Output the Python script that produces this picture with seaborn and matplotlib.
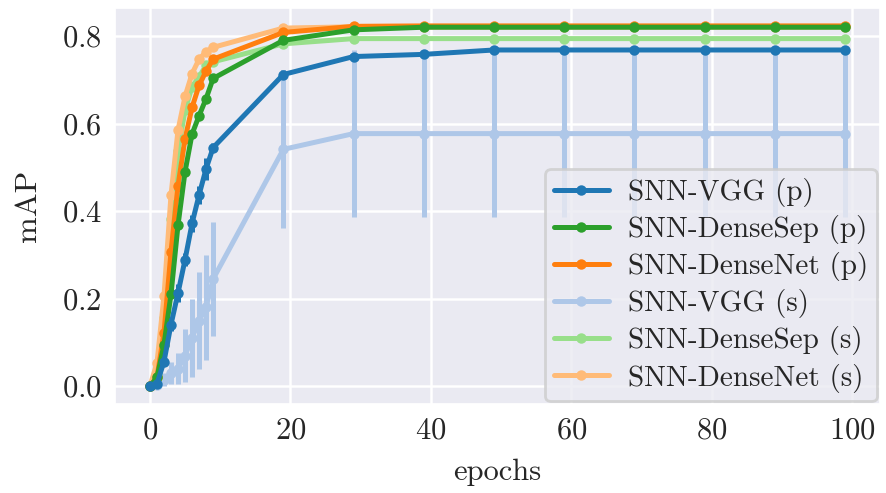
import numpy as np
import pandas as pd
import matplotlib
matplotlib.use('Agg')
import matplotlib.pyplot as plt
import seaborn as sns

# epochs at which mAP was evaluated
epochs = [0, 1, 2, 3, 4, 5, 6, 7, 8, 9, 19, 29, 39, 49, 59, 69, 79, 89, 99]

# mean mAP per model, (p) and (s) variants
vgg_p = [0.0, 0.006, 0.056, 0.141, 0.213, 0.289, 0.372, 0.437, 0.497, 0.545,
         0.712, 0.753, 0.758, 0.768, 0.768, 0.768, 0.768, 0.768, 0.768]
densesep_p = [0.0, 0.02, 0.095, 0.21, 0.368, 0.49, 0.576, 0.618, 0.657, 0.703,
              0.79, 0.814, 0.82, 0.82, 0.82, 0.82, 0.82, 0.82, 0.82]
densenet_p = [0.0, 0.02, 0.122, 0.307, 0.458, 0.565, 0.637, 0.687, 0.72, 0.747,
              0.808, 0.822, 0.823, 0.823, 0.823, 0.823, 0.823, 0.823, 0.823]
vgg_s = [0.0, 0.003, 0.015, 0.03, 0.04, 0.07, 0.11, 0.15, 0.18, 0.245,
         0.541, 0.577, 0.577, 0.577, 0.577, 0.577, 0.577, 0.577, 0.577]
densesep_s = [0.0, 0.03, 0.157, 0.383, 0.537, 0.63, 0.684, 0.707, 0.733, 0.741,
              0.782, 0.794, 0.794, 0.794, 0.794, 0.794, 0.794, 0.794, 0.794]
densenet_s = [0.0, 0.053, 0.206, 0.437, 0.585, 0.662, 0.714, 0.747, 0.764, 0.774,
              0.818, 0.821, 0.82, 0.82, 0.82, 0.82, 0.82, 0.82, 0.82]

# standard deviations (error bars)
vgg_p_sd = [0.0, 0.0, 0.01, 0.015, 0.02, 0.015, 0.02, 0.02, 0.025, 0.01,
            0.01, 0.005, 0.005, 0.0, 0.0, 0.0, 0.0, 0.0, 0.0]
vgg_s_sd = [0.0, 0.003, 0.015, 0.025, 0.035, 0.06, 0.09, 0.11, 0.12, 0.13,
            0.18, 0.19, 0.19, 0.19, 0.19, 0.19, 0.19, 0.19, 0.19]
zero_sd = [0.0] * 19

labels = ['SNN-VGG (p)', 'SNN-DenseSep (p)', 'SNN-DenseNet (p)',
          'SNN-VGG (s)', 'SNN-DenseSep (s)', 'SNN-DenseNet (s)']
colors = ['#1f77b4', '#2ca02c', '#ff7f0e', '#aec7e8', '#98df8a', '#ffbb78']

sns.set_theme(style='darkgrid')
plt.rcParams['font.family'] = 'serif'
plt.rcParams['font.serif'] = ['cmr10']
plt.rcParams['mathtext.fontset'] = 'cm'
plt.rcParams['axes.formatter.use_mathtext'] = True
plt.rcParams['axes.unicode_minus'] = False

fig, ax = plt.subplots(figsize=(8.86, 4.93), dpi=100)
fig.subplots_adjust(left=0.13, right=0.993, bottom=0.18, top=0.984)

series = [vgg_p, densesep_p, densenet_p, vgg_s, densesep_s, densenet_s]
sds = [vgg_p_sd, zero_sd, zero_sd, vgg_s_sd, zero_sd, zero_sd]

# (s) runs underneath, then orange, green, blue (p) on top
order = [3, 4, 5, 2, 1, 0]
for z, i in enumerate(order):
    df = pd.DataFrame({'epochs': epochs, 'mAP': series[i]})
    sd = np.array(sds[i])
    if sd.any():
        ax.errorbar(epochs, series[i], yerr=sd, fmt='none', ecolor=colors[i],
                    elinewidth=3.6, capsize=0, zorder=2 + z * 0.1)
    sns.lineplot(data=df, x='epochs', y='mAP', ax=ax, color=colors[i],
                 marker='o', markersize=7.5, markeredgewidth=0, linewidth=3.6,
                 label=labels[i], zorder=2.05 + z * 0.1)

h, l = ax.get_legend_handles_labels()
lookup = dict(zip(l, h))
ax.legend([lookup[k] for k in labels], labels, loc='lower right',
          fontsize=21, borderaxespad=0.1, labelspacing=0.28, borderpad=0.3,
          handlelength=1.9, handletextpad=0.65, framealpha=0.8, edgecolor='0.8')
ax.get_legend().get_frame().set_linewidth(2)

ax.set_xlabel('epochs', fontsize=22, labelpad=10)
ax.set_ylabel('mAP', fontsize=23, labelpad=14)
ax.tick_params(labelsize=22)
ax.set_xticks([0, 20, 40, 60, 80, 100])
ax.set_yticks([0.0, 0.2, 0.4, 0.6, 0.8])
ax.grid(linewidth=1.8)

fig.savefig('out.png', dpi=100)
